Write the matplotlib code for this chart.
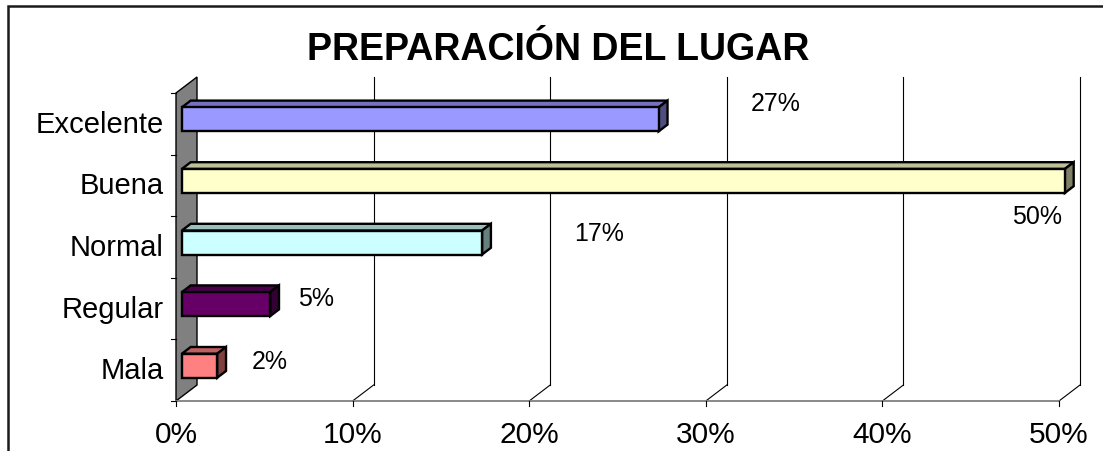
import matplotlib
matplotlib.use('Agg')
import matplotlib.pyplot as plt
from matplotlib.patches import Polygon, Rectangle
import numpy as np

# datos
categorias = ['Excelente', 'Buena', 'Normal', 'Regular', 'Mala']
valores = [27, 50, 17, 5, 2]
etiquetas = ['27%', '50%', '17%', '5%', '2%']
ticks_x = [0, 10, 20, 30, 40, 50]
titulo = 'PREPARACIÓN DEL LUGAR'

colores = ['#9999FF', '#FFFFCC', '#CCFFFF', '#660066', '#FF8080']

# posiciones de las etiquetas (desplazamiento respecto al extremo de la barra)
lab_dx = [6.98, -1.24, 6.95, 2.93, 3.32]
lab_dy = [0.34, -0.50, 0.23, 0.17, 0.155]

plt.rcParams['font.family'] = ['Liberation Sans', 'DejaVu Sans']

W, H = 1103, 452
fig = plt.figure(figsize=(W / 100, H / 100), dpi=100, facecolor='white')

# plano frontal del grafico en pixeles
x0, x1 = 176, 1059
y_top, y_bot = 94, 402
ax = fig.add_axes([x0 / W, (H - y_bot) / H, (x1 - x0) / W, (y_bot - y_top) / H])
ax.set_xlim(0, 50)
ax.set_ylim(-0.5, 4.5)
ax.axis('off')

px_x = 50 / (x1 - x0)          # unidades por pixel en x
px_y = 5 / (y_bot - y_top)     # unidades por pixel en y
dx, dy = 21 * px_x, 16 * px_y  # profundidad

def shade(c, f):
    r, g, b = matplotlib.colors.to_rgb(c)
    return (r * f, g * f, b * f)

# pared izquierda
ax.add_patch(Polygon([(0, -0.5), (0, 4.5), (dx, 4.5 + dy), (dx, -0.5 + dy)],
                     closed=True, facecolor='#808080', edgecolor='black',
                     lw=1.0, clip_on=False, zorder=2))

# lineas de division (pared trasera y suelo)
for t in ticks_x[1:]:
    ax.plot([t + dx, t + dx], [-0.5 + dy, 4.5 + dy], color='black', lw=0.8,
            clip_on=False, zorder=1)
    ax.plot([t, t + dx], [-0.5, -0.5 + dy], color='black', lw=0.8,
            clip_on=False, zorder=1)

# eje x frontal
ax.plot([0, 50], [-0.5, -0.5], color='#808080', lw=1.3, clip_on=False, zorder=2)
for t in ticks_x:
    ax.plot([t, t], [-0.5, -0.5 - 5 * px_y], color='black', lw=0.8,
            clip_on=False, zorder=2)
    ax.annotate(f'{t}%', (t, -0.5), xytext=(0, -41), textcoords='offset pixels',
                ha='center', va='baseline', fontsize=21.5, annotation_clip=False)

# marcas del eje y
for b in np.arange(-0.5, 5, 1.0):
    ax.plot([-5 * px_x, 0], [b, b], color='black', lw=0.8, clip_on=False, zorder=2)

ypos = np.arange(len(categorias))[::-1]
for yy, cat in zip(ypos, categorias):
    ax.annotate(cat, (0, yy), xytext=(-12, -8), textcoords='offset pixels',
                ha='right', va='baseline', fontsize=21, annotation_clip=False)

# barras 3D
fa, fb = 0.28, 0.70
bar_h = 24 * px_y
ax.barh(ypos + fa * dy, valores, height=bar_h, left=fa * dx, color=colores,
        edgecolor='black', lw=1.7, zorder=5, clip_on=False)
for yy, v, c in zip(ypos, valores, colores):
    yb = yy + fa * dy - bar_h / 2
    yt = yy + fa * dy + bar_h / 2
    xa = fa * dx
    ddx, ddy = (fb - fa) * dx, (fb - fa) * dy
    top = [(xa, yt), (xa + v, yt), (xa + v + ddx, yt + ddy), (xa + ddx, yt + ddy)]
    side = [(xa + v, yb), (xa + v, yt), (xa + v + ddx, yt + ddy), (xa + v + ddx, yb + ddy)]
    ax.add_patch(Polygon(top, closed=True, facecolor=shade(c, 0.75),
                         edgecolor='black', lw=1.7, clip_on=False, zorder=4))
    ax.add_patch(Polygon(side, closed=True, facecolor=shade(c, 0.5),
                         edgecolor='black', lw=1.7, clip_on=False, zorder=4))

# etiquetas de datos
for yy, v, lab, ddx_, ddy_ in zip(ypos, valores, etiquetas, lab_dx, lab_dy):
    ax.text(v + ddx_, yy + ddy_, lab, ha='center', va='center', fontsize=18,
            zorder=6, clip_on=False)

# titulo
fig.text(558.5 / W, 1 - 60 / H, titulo, ha='center', va='baseline',
         fontsize=27, fontweight='bold')

# marco exterior
fig.patches.append(Rectangle((8 / W, -0.05), 1.1, 1 - 7 / H + 0.05,
                             transform=fig.transFigure, fill=False,
                             edgecolor='#1a1a1a', lw=1.8, zorder=10))

fig.savefig('out.png', dpi=100)
